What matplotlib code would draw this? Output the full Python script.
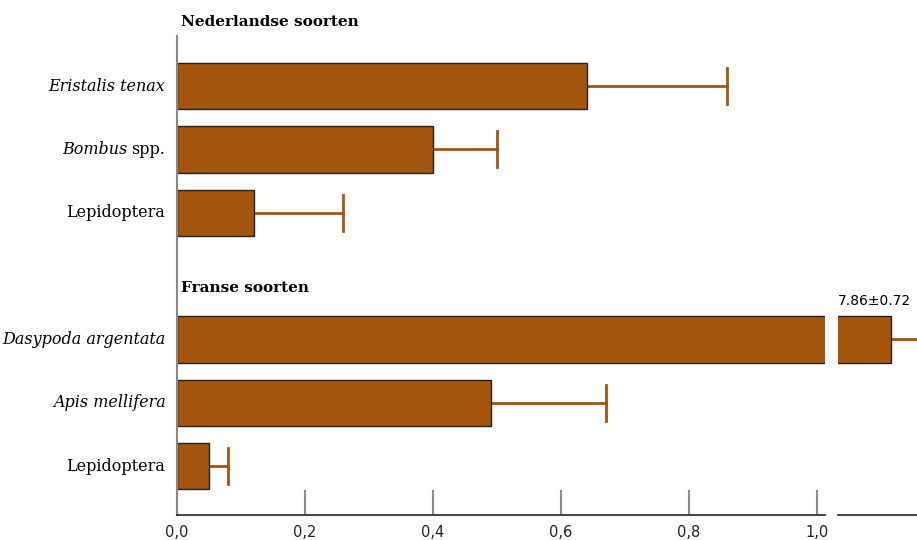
import matplotlib.pyplot as plt
import numpy as np

# data
labels = ['Eristalis tenax', 'Bombus spp.', 'Lepidoptera',
          'Dasypoda argentata', 'Apis mellifera', 'Lepidoptera']
italic = [True, 'partial', False, True, True, False]
means = [0.64, 0.40, 0.12, 7.86, 0.49, 0.05]
errs = [0.22, 0.10, 0.14, 0.72, 0.18, 0.03]
rows = [0, 1, 2, 4, 5, 6]
groups = ['Nederlandse soorten', 'Franse soorten']
group_y = [-1.01, 3.18]
ticks = [0.0, 0.2, 0.4, 0.6, 0.8, 1.0]
ticklabels = ['0,0', '0,2', '0,4', '0,6', '0,8', '1,0']

brown = '#A3550E'
W, H = 917, 540

fig = plt.figure(figsize=(9.17, 5.4), dpi=100)
bot, top = 1 - 515/H, 1 - 36/H
ax1 = fig.add_axes([177/W, bot, (825-177)/W, top-bot])
ax2 = fig.add_axes([838/W, bot, (917-838)/W, top-bot])

scale = 640.0  # pixels per unit
x2lo = 7.86 - (891-838)/scale
lims = [(0, (825-177)/scale), (x2lo, x2lo + (917-838)/scale)]

cap = 0.285  # half cap height in row units
for ax, (lo, hi) in zip([ax1, ax2], lims):
    ax.barh(rows, means, height=0.73, color=brown, edgecolor='#222222', lw=1.0, zorder=2)
    # one-sided error bars with a cap on the right end only
    for m, e, r in zip(means, errs, rows):
        ax.plot([m, m + e], [r, r], color=brown, lw=2, zorder=1)
        ax.plot([m + e, m + e], [r - cap, r + cap], color=brown, lw=2, zorder=1)
    ax.set_xlim(lo, hi)
    ax.set_ylim(6.77, -0.79)
    for s in ['top', 'right', 'left']:
        ax.spines[s].set_visible(False)
    ax.spines['bottom'].set_color('#222222')
    ax.spines['bottom'].set_linewidth(1.2)
    ax.set_yticks([])

ax2.set_xticks([])
ax1.spines['left'].set_visible(True)
ax1.spines['left'].set_color('#888888')
ax1.spines['left'].set_linewidth(1.5)

ax1.set_xticks(ticks)
ax1.set_xticklabels(ticklabels, fontsize=10.5, family='DejaVu Sans', color='#222222')
ax1.tick_params(axis='x', direction='in', length=18, width=1.5, color='#888888', pad=7)

# species labels
for r, lab, it in zip(rows, labels, italic):
    if it == 'partial':
        ax1.text(-0.018, r, 'spp.', ha='right', va='center', fontsize=11.5, family='DejaVu Serif')
        ax1.text(-0.078, r, 'Bombus', ha='right', va='center', fontsize=11.5,
                 family='DejaVu Serif', style='italic')
    else:
        ax1.text(-0.018, r, lab, ha='right', va='center', fontsize=11.5, family='DejaVu Serif',
                 style='italic' if it else 'normal')

for g, gy in zip(groups, group_y):
    ax1.text(0.006, gy, g, ha='left', va='center', fontsize=11, family='DejaVu Serif',
             weight='bold', clip_on=False)

ax2.text(7.86 - 0.083, 3.4, '7.86\u00b10.72', ha='left', va='center', fontsize=10,
         family='DejaVu Sans', clip_on=False)

fig.savefig('out.png', dpi=100)
